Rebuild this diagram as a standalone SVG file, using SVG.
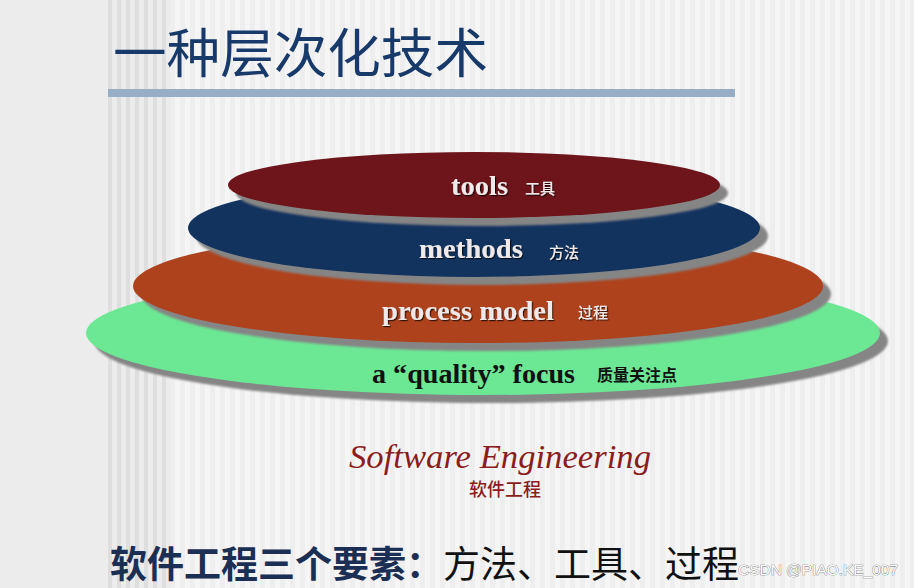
<svg xmlns="http://www.w3.org/2000/svg" width="914" height="588" viewBox="0 0 914 588">
  <defs>
    <pattern id="fine" x="0" y="0" width="10" height="588" patternUnits="userSpaceOnUse">
      <rect width="10" height="588" fill="#f5f5f5"/>
      <rect width="5" height="588" fill="#eeeeee"/>
    </pattern>
    <pattern id="coarse" x="108" y="0" width="9" height="588" patternUnits="userSpaceOnUse">
      <rect width="9" height="588" fill="#ececec"/>
      <rect width="4" height="588" fill="#dedede"/>
    </pattern>
    <filter id="ts" x="-10%" y="-30%" width="120%" height="160%">
      <feDropShadow dx="1.2" dy="1.2" stdDeviation="0.6" flood-color="#000" flood-opacity="0.7"/>
    </filter>
    <filter id="soft" x="-5%" y="-10%" width="110%" height="120%">
      <feGaussianBlur stdDeviation="0.8"/>
    </filter>
  </defs>
  <style>
    .en { font-family: "Liberation Serif", "Times New Roman", serif; font-weight: bold; font-size: 28px; }
    .light { fill: #efe9e9; filter: url(#ts); }
    .cjk { font-family: "Noto Sans CJK SC", "Noto Sans", sans-serif; }
    .lbl { font-size: 15px; font-weight: 500; }
    .shadow { fill: #858585; filter: url(#soft); }
  </style>

  <!-- background -->
  <rect x="0" y="0" width="914" height="588" fill="url(#fine)"/>
  <rect x="0" y="0" width="108" height="588" fill="#ececec"/>
  <rect x="108" y="0" width="62" height="588" fill="url(#coarse)"/>

  <!-- title -->
  <g id="title">
    <text x="113" y="73" class="cjk" font-size="53" fill="#173a6b" textLength="375" lengthAdjust="spacingAndGlyphs">一种层次化技术</text>
    <rect x="108" y="89" width="627" height="8" fill="#98adc6"/>
  </g>

  <g id="connectors"></g>

  <!-- layers -->
  <g id="quality">
    <ellipse class="shadow" cx="491" cy="341" rx="397" ry="62"/>
    <ellipse cx="483" cy="333" rx="397" ry="62" fill="#6ce794"/>
    <text x="372" y="383" class="en" fill="#111111" textLength="203" lengthAdjust="spacingAndGlyphs">a “quality” focus</text>
    <text x="597" y="381" class="cjk" font-size="16" font-weight="bold" fill="#111111">质量关注点</text>
  </g>
  <g id="process">
    <ellipse class="shadow" cx="486" cy="294" rx="345" ry="57"/>
    <ellipse cx="478" cy="286" rx="345" ry="57" fill="#ae421c"/>
    <text x="382" y="320" class="en light" textLength="172" lengthAdjust="spacingAndGlyphs">process model</text>
    <text x="578" y="318" class="cjk lbl light">过程</text>
  </g>
  <g id="methods">
    <ellipse class="shadow" cx="482" cy="236" rx="286" ry="49"/>
    <ellipse cx="474" cy="228" rx="286" ry="49" fill="#13335f"/>
    <text x="419" y="258" class="en light" textLength="104" lengthAdjust="spacingAndGlyphs">methods</text>
    <text x="549" y="258" class="cjk lbl light">方法</text>
  </g>
  <g id="tools">
    <ellipse class="shadow" cx="482" cy="193" rx="246" ry="33"/>
    <ellipse cx="474" cy="185" rx="246" ry="33" fill="#6e141b"/>
    <text x="451" y="195" class="en light" textLength="57" lengthAdjust="spacingAndGlyphs">tools</text>
    <text x="525" y="194" class="cjk lbl light">工具</text>
  </g>

  <!-- caption -->
  <g id="caption">
    <text x="349" y="468" font-family="Liberation Serif, Times New Roman, serif" font-style="italic" font-size="33" fill="#8b1c1c" textLength="302" lengthAdjust="spacingAndGlyphs">Software Engineering</text>
    <text x="505" y="496" text-anchor="middle" class="cjk" font-size="18" font-weight="500" fill="#8b1c1c">软件工程</text>
  </g>

  <!-- bottom line -->
  <g id="summary">
    <text x="110" y="578" class="cjk" font-size="37"><tspan font-weight="bold" fill="#1b2f55">软件工程三个要素：</tspan><tspan fill="#111111">方法、工具、过程</tspan></text>
  </g>

  <text x="738" y="575" font-family="Liberation Sans, Arial, sans-serif" font-size="14" fill="#ffffff" stroke="#707070" stroke-width="0.7" paint-order="stroke" textLength="160" lengthAdjust="spacingAndGlyphs">CSDN @PIAO.KE_007</text>
</svg>
